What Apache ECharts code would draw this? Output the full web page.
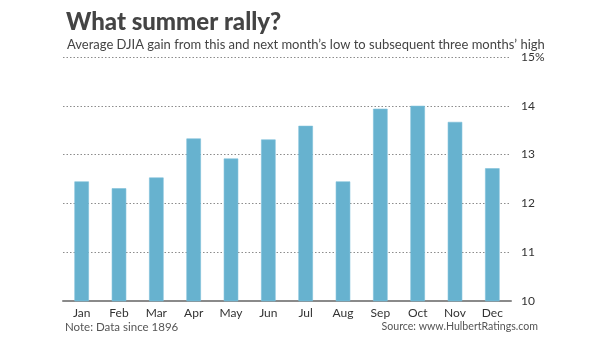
<!DOCTYPE html>
<html>
<head>
<meta charset="utf-8">
<script src="https://cdn.jsdelivr.net/npm/echarts@6/dist/echarts.min.js"></script>
<style>
  html, body { margin: 0; padding: 0; background: #fff; }
  #chart { width: 600px; height: 338px; }
</style>
</head>
<body>
<div id="chart"></div>
<script>
// Average DJIA gain (%) from this and next month's low to the subsequent three months' high
const months = ['Jan', 'Feb', 'Mar', 'Apr', 'May', 'Jun', 'Jul', 'Aug', 'Sep', 'Oct', 'Nov', 'Dec'];
const avgGain = [12.45, 12.31, 12.53, 13.33, 12.92, 13.31, 13.59, 12.45, 13.94, 14.0, 13.67, 12.72];
const yTicks = [10, 11, 12, 13, 14, 15];

const FONT = 'Lato, "Open Sans", sans-serif';

const chart = echarts.init(document.getElementById('chart'), null, { renderer: 'canvas' });

chart.setOption({
  animation: false,
  backgroundColor: '#ffffff',
  title: [
    {
      text: 'What summer rally?',
      left: 61, top: 5,
      textStyle: { fontFamily: FONT, fontSize: 24, fontWeight: 900, color: '#444444' }
    },
    {
      text: 'Average DJIA gain from this and next month\u2019s low to subsequent three months\u2019 high',
      left: 62, top: 33,
      textStyle: { fontFamily: FONT, fontSize: 13, fontWeight: 'normal', color: '#444444' }
    },
    {
      text: 'Note: Data since 1896',
      left: 60, top: 316,
      textStyle: { fontFamily: FONT, fontSize: 11.5, fontWeight: 'normal', color: '#555555' }
    },
    {
      text: 'Source: www.HulbertRatings.com',
      right: 57, top: 316,
      textStyle: { fontFamily: FONT, fontSize: 10.6, fontWeight: 'normal', color: '#555555' }
    }
  ],
  grid: { left: 63, right: 89, top: 57, bottom: 37 },
  xAxis: {
    type: 'category',
    data: months,
    axisLine: { show: true, lineStyle: { color: '#8a8a8a', width: 2 } },
    axisTick: { show: false },
    axisLabel: { fontFamily: FONT, fontSize: 12, color: '#333333', margin: 6 }
  },
  yAxis: {
    type: 'value',
    position: 'right',
    min: yTicks[0],
    max: yTicks[yTicks.length - 1],
    interval: 1,
    axisLine: { show: false },
    axisTick: { show: false },
    axisLabel: {
      fontFamily: FONT, fontSize: 12, color: '#333333', margin: 10,
      formatter: v => (v === yTicks[yTicks.length - 1] ? v + '%' : String(v))
    },
    splitLine: { show: true, lineStyle: { color: '#8c8c8c', type: [1.5, 2], width: 1 } }
  },
  series: [{
    type: 'bar',
    data: avgGain,
    barWidth: 14.5,
    itemStyle: { color: '#67b2cf', borderColor: '#7cc0da', borderWidth: 0.6 }
  }]
});
</script>
</body>
</html>
